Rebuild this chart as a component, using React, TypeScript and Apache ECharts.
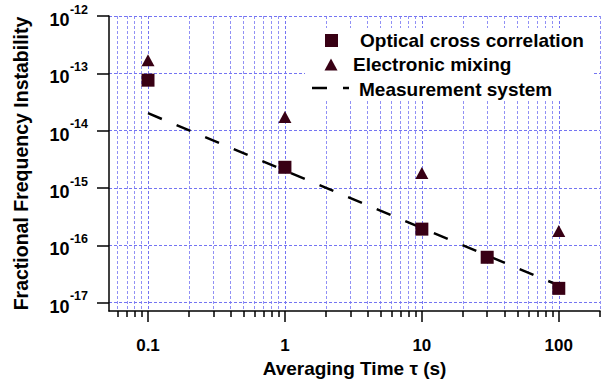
import React, { useEffect, useRef } from "react";
import * as echarts from "echarts";

// Averaging times (s) and measured instabilities
const tauOptical = [0.1, 1, 10, 30, 100];
const optical = [7.6e-14, 2.3e-15, 1.92e-16, 6.2e-17, 1.78e-17];
const tauMixing = [0.1, 1, 10, 100];
const mixing = [1.69e-13, 1.74e-14, 1.82e-15, 1.78e-16];
const tauSystem = [0.1, 100];
const system = [2.02e-14, 2.0e-17];

// Axis ticks
const xMajor = [0.1, 1, 10, 100];
const xMinor = [
  0.06, 0.07, 0.08, 0.09,
  0.2, 0.3, 0.4, 0.5, 0.6, 0.7, 0.8, 0.9,
  2, 3, 4, 5, 6, 7, 8, 9,
  20, 30, 40, 50, 60, 70, 80, 90, 200,
];
const yMajor = [1e-17, 1e-16, 1e-15, 1e-14, 1e-13, 1e-12];

const FONT = "'Liberation Sans', Arial, sans-serif";
const MARK = "#380014";
const GRID = "#7474f2";

export default function App() {
  const ref = useRef<HTMLDivElement>(null);
  useEffect(() => {
    if (!ref.current) return;
    const chart = echarts.init(ref.current, null, { renderer: "svg" });
    const xMin = 0.0519, xMax = 200, yMin = 7.17e-18, yMax = 1e-12;
    const option: any = {
      animation: false,
      backgroundColor: "#fff",
      textStyle: { fontFamily: FONT },
      grid: { left: 109, right: 4, top: 16, bottom: 72, containLabel: false },
      xAxis: [
        {
          type: "log", logBase: 10, min: xMin, max: xMax, position: "bottom",
          name: "Averaging Time \u03c4 (s)", nameLocation: "middle", nameGap: 46,
          nameTextStyle: { fontFamily: FONT, fontSize: 19, fontWeight: "bold", color: "#000" },
          axisLine: { show: true, onZero: false, lineStyle: { color: "#000", width: 1.5 } },
          axisTick: { show: true, inside: false, length: 11, customValues: xMajor, lineStyle: { color: "#000", width: 1.5 } },
          axisLabel: {
            customValues: xMajor, margin: 26, fontFamily: FONT, fontSize: 17, fontWeight: "bold", color: "#000",
            formatter: (v: number) => String(Number(v.toPrecision(6))),
          },
          splitLine: { show: true, lineStyle: { type: [3, 2], color: GRID, width: 1 } },
          minorTick: { show: false }, minorSplitLine: { show: false },
        },
        {
          type: "log", logBase: 10, min: xMin, max: xMax, position: "bottom", offset: 0,
          axisLine: { show: false },
          axisTick: { show: true, inside: false, length: 6, customValues: xMinor, lineStyle: { color: "#000", width: 1.5 } },
          axisLabel: { show: false },
          splitLine: { show: true, lineStyle: { type: [3, 2], color: GRID, width: 1, opacity: 0.8 } },
        },
      ],
      yAxis: {
        type: "log", logBase: 10, min: yMin, max: yMax,
        name: "Fractional Frequency Instability", nameLocation: "middle", nameGap: 78,
        nameTextStyle: { fontFamily: FONT, fontSize: 19.5, fontWeight: "bold", color: "#000" },
        axisLine: { show: true, onZero: false, lineStyle: { color: "#000", width: 1.5 } },
        axisTick: { show: true, inside: false, length: 12, customValues: yMajor, lineStyle: { color: "#000", width: 1.5 } },
        axisLabel: {
          customValues: yMajor, margin: 21, color: "#000",
          fontFamily: FONT, fontSize: 18, fontWeight: "bold",
          formatter: (v: number) => `{base|10}{sup|${Math.round(Math.log10(v))}}`,
          rich: {
            base: { fontSize: 18, fontWeight: "bold", verticalAlign: "bottom" },
            sup: { fontSize: 12.5, fontWeight: "bold", verticalAlign: "top", padding: [0, 0, 13, 0.5] },
          },
        },
        splitLine: { show: true, lineStyle: { type: [3, 2], color: GRID, width: 1 } },
      },
      series: [
        {
          name: "Measurement system", type: "line", xAxisIndex: 0,
          data: tauSystem.map((t, i) => [t, system[i]]),
          showSymbol: false, symbol: "none",
          lineStyle: { color: "#000", width: 2.5, type: [15, 16], cap: "butt" },
          z: 3,
        },
        {
          name: "Optical cross correlation", type: "scatter", xAxisIndex: 0,
          data: tauOptical.map((t, i) => [t, optical[i]]),
          symbol: "rect", symbolSize: 13, itemStyle: { color: MARK, opacity: 1 }, z: 4,
        },
        {
          name: "Electronic mixing", type: "scatter", xAxisIndex: 0,
          data: tauMixing.map((t, i) => [t, mixing[i]]),
          symbol: "triangle", symbolSize: [13, 12], itemStyle: { color: MARK, opacity: 1 }, z: 4,
        },
      ],
      graphic: [
        { type: "rect", z: 10, shape: { x: 305, y: 28, width: 288, height: 72 }, style: { fill: "#fff" } },
        { type: "rect", z: 11, shape: { x: 325, y: 34, width: 13, height: 13 }, style: { fill: MARK } },
        { type: "polygon", z: 11, shape: { points: [[331, 58.5], [337.5, 70.5], [324.5, 70.5]] }, style: { fill: MARK } },
        { type: "line", z: 11, shape: { x1: 312, y1: 88, x2: 349, y2: 88 }, style: { stroke: "#000", lineWidth: 2.5, lineDash: [15, 16] } },
        { type: "text", z: 11, x: 360, y: 40, style: { text: "Optical cross correlation", font: `bold 19px ${FONT}`, fill: "#000", verticalAlign: "middle" } },
        { type: "text", z: 11, x: 353, y: 64.5, style: { text: "Electronic mixing", font: `bold 19px ${FONT}`, fill: "#000", verticalAlign: "middle" } },
        { type: "text", z: 11, x: 359, y: 89, style: { text: "Measurement system", font: `bold 19px ${FONT}`, fill: "#000", verticalAlign: "middle" } },
      ],
    };
    chart.setOption(option);
    return () => chart.dispose();
  }, []);
  return <div ref={ref} style={{ position: "fixed", left: 0, top: 0, width: 604, height: 383 }} />;
}
